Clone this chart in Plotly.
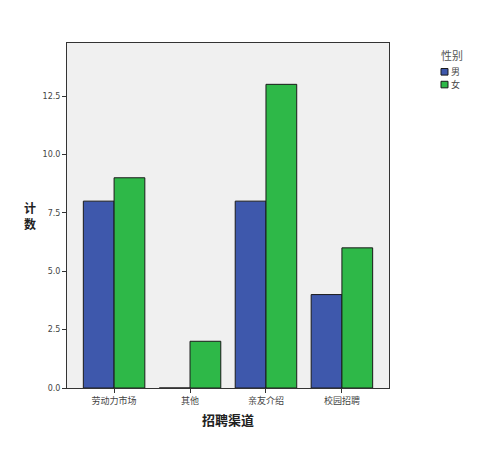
import plotly.graph_objects as go

# data
channels = ["劳动力市场", "其他", "亲友介绍", "校园招聘"]
genders = ["男", "女"]
male = [8, 0, 8, 4]
female = [9, 2, 13, 6]
y_ticks = [0, 2.5, 5, 7.5, 10, 12.5]
y_tick_text = ["0.0", "2.5", "5.0", "7.5", "10.0", "12.5"]

colors = ["#3e58ac", "#2eb848"]
font_cjk = "Noto Sans CJK SC"

fig = go.Figure()
for name, vals, col in zip(genders, [male, female], colors):
    fig.add_trace(go.Bar(x=channels, y=vals, name=name, showlegend=False,
                         marker=dict(color=col, line=dict(color="#1a1a1a", width=1))))

# small SPSS-like legend drawn by hand (native legend rows are too tall)
shapes = []
annotations = [dict(text="性别", xref="paper", yref="paper", x=1.155, y=0.965,
                    xanchor="left", yanchor="middle", showarrow=False,
                    font=dict(size=11, color="#555555"))]
for i, (name, col) in enumerate(zip(genders, colors)):
    y0 = 0.907 - i * 0.037
    shapes.append(dict(type="rect", xref="paper", yref="paper",
                       x0=1.1615, x1=1.1832, y0=y0, y1=y0 + 0.019,
                       fillcolor=col, line=dict(color="#1a1a1a", width=1)))
    annotations.append(dict(text=name, xref="paper", yref="paper", x=1.187, y=y0 + 0.009,
                            xanchor="left", yanchor="middle", showarrow=False,
                            font=dict(size=9, color="#444444")))

annotations.append(dict(
    text="<b>计<br>数</b>", xref="paper", yref="paper",
    x=-0.115, y=0.5, xanchor="center", yanchor="middle",
    showarrow=False, font=dict(size=12, color="#222222"),
))

fig.update_layout(
    width=488, height=444,
    margin=dict(l=59, r=107, t=35, b=64),
    paper_bgcolor="white",
    plot_bgcolor="#f0f0f0",
    barmode="group",
    bargap=0.19,
    bargroupgap=0,
    font=dict(family=font_cjk, size=9, color="#333333"),
    xaxis=dict(
        range=[-0.62, 3.62],
        showgrid=False, showline=True, linecolor="#333333", linewidth=1, mirror=True,
        ticks="outside", ticklen=4, tickcolor="#333333",
        tickfont=dict(size=9, color="#444444"),
        title=dict(text="<b>招聘渠道</b>", font=dict(size=13, color="#222222"), standoff=10),
    ),
    yaxis=dict(
        range=[0, 14.77],
        tickvals=y_ticks, ticktext=y_tick_text,
        showgrid=False, zeroline=False,
        showline=True, linecolor="#333333", linewidth=1, mirror=True,
        ticks="outside", ticklen=4, tickcolor="#333333",
        tickfont=dict(family="DejaVu Sans", size=8, color="#444444"),
    ),
    shapes=shapes,
    annotations=annotations,
)

fig.write_html("out.html")
